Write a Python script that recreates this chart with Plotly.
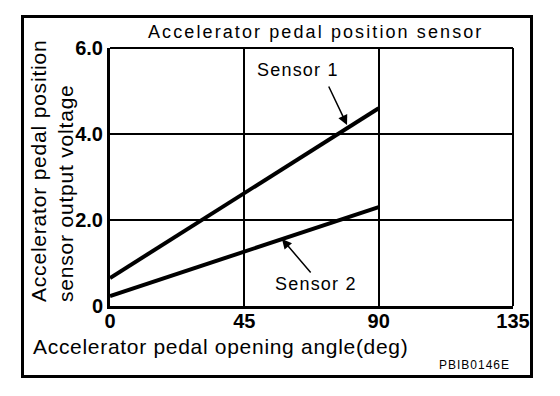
import plotly.graph_objects as go

# ---- data ----
angle = [0, 90]
sensor1 = [0.65, 4.6]
sensor2 = [0.23, 2.3]
x_ticks = [0, 45, 90, 135]
x_tick_labels = ["0", "45", "90", "135"]
y_ticks = [0, 2, 4, 6]
y_tick_labels = ["0", "2.0", "4.0", "6.0"]
title_text = "Accelerator pedal position sensor"
x_title = "Accelerator pedal opening angle(deg)"
y_title_lines = ["Accelerator pedal position", "sensor output voltage"]
series_names = ["Sensor 1", "Sensor 2"]
code_text = "PBIB0146E"

OFF = 8  # page body margin
W, H = 560 - OFF, 396 - OFF
# plot area in window pixels: x 110..513, y 48..306
L, T = 110 - OFF, 48 - OFF
R, B = W - (513 - OFF), H - (306 - OFF)
pw, ph = W - L - R, H - T - B

def px_x(p):
    return (p - OFF - L) / pw

def px_y(p):
    return (H - B - (p - OFF)) / ph

FONT = "Liberation Sans, Arial, sans-serif"

def spaced(t, s):
    return '<span style="letter-spacing:%spx">%s</span>' % (s, t)

fig = go.Figure()
fig.add_trace(go.Scatter(x=angle, y=sensor1, mode="lines", name=series_names[0],
                         line=dict(color="black", width=4), showlegend=False))
fig.add_trace(go.Scatter(x=angle, y=sensor2, mode="lines", name=series_names[1],
                         line=dict(color="black", width=4), showlegend=False))

fig.update_layout(
    width=W, height=H,
    margin=dict(l=L, r=R, t=T, b=B),
    paper_bgcolor="white", plot_bgcolor="white",
    font=dict(family=FONT, color="black"),
    showlegend=False,
)
fig.update_xaxes(range=[0, 135], tickvals=x_ticks, ticktext=x_tick_labels,
                 showgrid=True, gridcolor="black", gridwidth=2,
                 showline=True, linecolor="black", linewidth=3,
                 zeroline=False, ticks="", fixedrange=True, ticklabelstandoff=-5,
                 tickfont=dict(family=FONT, size=20, weight="bold", color="black"))
fig.update_yaxes(range=[0, 6], tickvals=y_ticks, ticktext=y_tick_labels,
                 showgrid=True, gridcolor="black", gridwidth=1.5,
                 showline=True, linecolor="black", linewidth=3,
                 zeroline=False, ticks="", fixedrange=True,
                 tickfont=dict(family=FONT, size=20, weight="bold", color="black"))

# frame top / right and outer border
fig.add_shape(type="line", xref="paper", yref="paper", x0=0, x1=1, y0=1, y1=1,
              line=dict(color="black", width=2))
fig.add_shape(type="line", xref="paper", yref="paper", x0=1, x1=1, y0=0, y1=1,
              line=dict(color="black", width=2))
fig.add_shape(type="rect", xref="paper", yref="paper",
              x0=px_x(22.5), x1=px_x(531.5), y0=px_y(376.5), y1=px_y(16.5),
              line=dict(color="black", width=3))

ann = []
ann.append(dict(text=spaced(title_text, 2.1), xref="paper", yref="paper",
                x=px_x(315), y=px_y(32), xanchor="center", yanchor="middle",
                showarrow=False, font=dict(size=18)))
ann.append(dict(text=spaced(x_title, 0.7), xref="paper", yref="paper",
                x=px_x(220), y=px_y(346), xanchor="center", yanchor="middle",
                showarrow=False, font=dict(size=21)))
ann.append(dict(text=spaced(y_title_lines[0], 0.8) + "<br>" + spaced(y_title_lines[1], 0.8),
                xref="paper", yref="paper", textangle=-90, align="left",
                x=px_x(52), y=px_y(304), xanchor="center", yanchor="bottom",
                showarrow=False, font=dict(size=21)))
ann.append(dict(text=spaced(code_text, 1), xref="paper", yref="paper",
                x=px_x(474), y=px_y(365), xanchor="center", yanchor="middle",
                showarrow=False, font=dict(size=12)))
# series labels
ann.append(dict(text=spaced(series_names[0], 1.2), x=63.0, y=5.49, xref="x", yref="y",
                showarrow=False, font=dict(size=18), xanchor="center", yanchor="middle"))
ann.append(dict(text=spaced(series_names[1], 1.2), x=69.0, y=0.51, xref="x", yref="y",
                showarrow=False, font=dict(size=18), xanchor="center", yanchor="middle"))
# arrows
ann.append(dict(text="", x=79.4, y=4.21, xref="x", yref="y", showarrow=True,
                ax=-19, ay=-40, arrowhead=2, arrowsize=1.3, arrowwidth=1.5, arrowcolor="black"))
ann.append(dict(text="", x=57.6, y=1.56, xref="x", yref="y", showarrow=True,
                ax=30, ay=35, arrowhead=2, arrowsize=1.3, arrowwidth=1.5, arrowcolor="black"))
fig.update_layout(annotations=ann)

fig.write_html("out.html")
